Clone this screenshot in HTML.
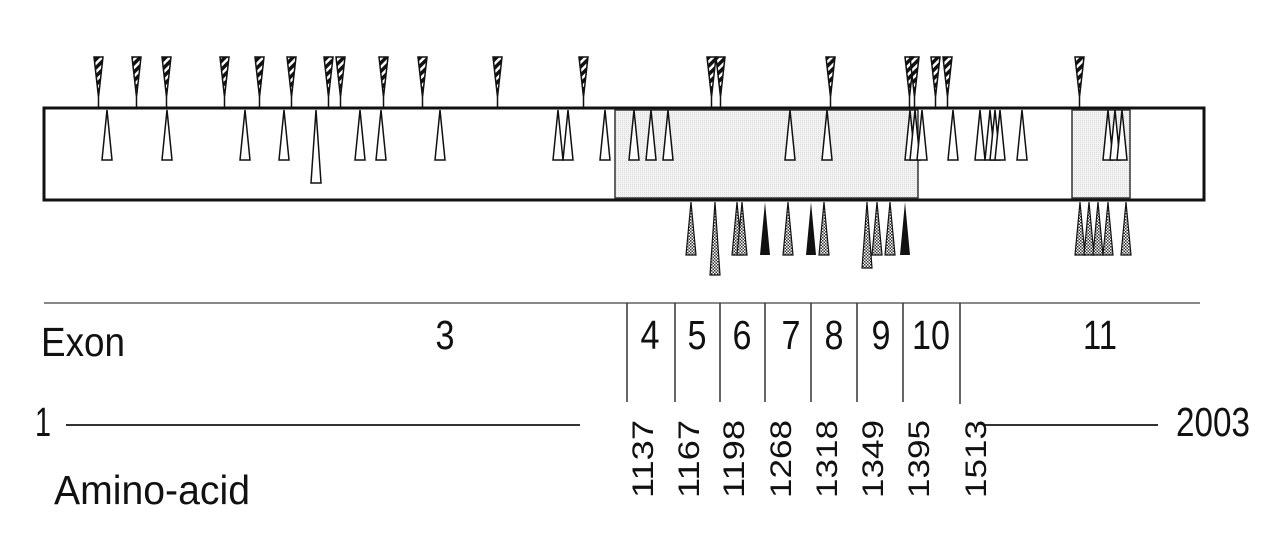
<!DOCTYPE html>
<html><head><style>body{margin:0;background:#fff}svg{display:block}</style></head><body>
<svg width="1280" height="546" xmlns="http://www.w3.org/2000/svg" font-family="Liberation Sans, sans-serif">
<defs>
<pattern id="h" width="6" height="6" patternUnits="userSpaceOnUse" patternTransform="rotate(45)"><rect width="6" height="6" fill="#fff"/><rect width="3.5" height="6" fill="#111"/></pattern>
<pattern id="d" width="3" height="3" patternUnits="userSpaceOnUse"><rect width="3" height="3" fill="#fff"/><rect width="1.5" height="1.5" fill="#333"/><rect x="1.5" y="1.5" width="1.5" height="1.5" fill="#333"/></pattern>
<pattern id="g" width="2" height="2" patternUnits="userSpaceOnUse"><rect width="2" height="2" fill="#f2f2f2"/><rect width="1" height="1" fill="#ddd"/></pattern>
</defs>
<rect x="44" y="108" width="1160" height="92" fill="#fff" stroke="#111" stroke-width="3"/>
<rect x="615" y="110" width="303" height="88" fill="url(#g)" stroke="#333" stroke-width="1.5"/>
<rect x="1072" y="110" width="58" height="88" fill="url(#g)" stroke="#333" stroke-width="1.5"/>
<g stroke="#111" stroke-width="1.5" fill="url(#h)">
<path d="M94 57h9l-4.5 40zM98.5 97v10"/>
<path d="M132 57h9l-4.5 40zM136.5 97v10"/>
<path d="M162 57h9l-4.5 40zM166.5 97v10"/>
<path d="M220 57h9l-4.5 40zM224.5 97v10"/>
<path d="M255 57h9l-4.5 40zM259.5 97v10"/>
<path d="M287 57h9l-4.5 40zM291.5 97v10"/>
<path d="M324 57h9l-4.5 40zM328.5 97v10"/>
<path d="M336 57h9l-4.5 40zM340.5 97v10"/>
<path d="M379 57h9l-4.5 40zM383.5 97v10"/>
<path d="M418 57h9l-4.5 40zM422.5 97v10"/>
<path d="M493 57h9l-4.5 40zM497.5 97v10"/>
<path d="M579 57h9l-4.5 40zM583.5 97v10"/>
<path d="M707 57h9l-4.5 40zM711.5 97v10"/>
<path d="M716 57h9l-4.5 40zM720.5 97v10"/>
<path d="M826 57h9l-4.5 40zM830.5 97v10"/>
<path d="M905 57h9l-4.5 40zM909.5 97v10"/>
<path d="M910 57h9l-4.5 40zM914.5 97v10"/>
<path d="M931 57h9l-4.5 40zM935.5 97v10"/>
<path d="M943 57h9l-4.5 40zM947.5 97v10"/>
<path d="M1075 57h9l-4.5 40zM1079.5 97v10"/>
</g>
<g stroke="#111" stroke-width="1.5" fill="#fff">
<path d="M107 110l5 50h-10z"/><path d="M167 110l5 50h-10z"/><path d="M245 110l5 50h-10z"/><path d="M284 110l5 50h-10z"/>
<path d="M316 110l5 73h-10z"/><path d="M360 110l5 50h-10z"/><path d="M381 110l5 50h-10z"/><path d="M440 110l5 50h-10z"/>
<path d="M558 110l5 50h-10z"/><path d="M568 110l5 50h-10z"/><path d="M605 110l5 50h-10z"/><path d="M634 110l5 50h-10z"/>
<path d="M651 110l5 50h-10z"/><path d="M668 110l5 50h-10z"/><path d="M790 110l5 50h-10z"/><path d="M827 110l5 50h-10z"/>
<path d="M910 110l5 50h-10z"/><path d="M915 110l5 50h-10z"/><path d="M922 110l5 50h-10z"/><path d="M953 110l5 50h-10z"/>
<path d="M980 110l5 50h-10z"/><path d="M990 110l5 50h-10z"/><path d="M995 110l5 50h-10z"/><path d="M1000 110l5 50h-10z"/>
<path d="M1022 110l5 50h-10z"/><path d="M1108 110l5 50h-10z"/><path d="M1115 110l5 50h-10z"/><path d="M1122 110l5 50h-10z"/>
</g>
<g stroke="#111" stroke-width="1.2" fill="url(#d)">
<path d="M691 202l5 53h-10z"/><path d="M737 202l5 53h-10z"/><path d="M742 202l5 53h-10z"/><path d="M788 202l5 53h-10z"/>
<path d="M824 202l5 53h-10z"/><path d="M877 202l5 53h-10z"/><path d="M890 202l5 53h-10z"/>
<path d="M1080 202l5 53h-10z"/><path d="M1089 202l5 53h-10z"/><path d="M1098 202l5 53h-10z"/><path d="M1108 202l5 53h-10z"/><path d="M1126 202l5 53h-10z"/>
<path d="M715 202l5 73h-10z"/><path d="M867 202l5 66h-10z"/>
</g>
<g fill="#111"><path d="M765 202l5 53h-10z"/><path d="M811 202l5 53h-10z"/><path d="M905 202l5 53h-10z"/></g>
<line x1="44" y1="303" x2="1200" y2="303" stroke="#888" stroke-width="2"/>
<g stroke="#333" stroke-width="1.5">
<line x1="627" y1="303" x2="627" y2="402"/><line x1="675" y1="303" x2="675" y2="402"/><line x1="720" y1="303" x2="720" y2="402"/><line x1="765" y1="303" x2="765" y2="402"/>
<line x1="811" y1="303" x2="811" y2="402"/><line x1="857" y1="303" x2="857" y2="402"/><line x1="903" y1="303" x2="903" y2="402"/><line x1="960" y1="303" x2="960" y2="404"/>
<line x1="66" y1="425" x2="580" y2="425" stroke-width="2"/><line x1="985" y1="425" x2="1158" y2="425" stroke-width="2"/>
</g>
<g font-size="41" fill="#111" text-anchor="middle">
<text x="83" y="356" textLength="84" lengthAdjust="spacingAndGlyphs">Exon</text>
<text x="445" y="349" textLength="19" lengthAdjust="spacingAndGlyphs">3</text>
<text x="650" y="349" textLength="19" lengthAdjust="spacingAndGlyphs">4</text><text x="697" y="349" textLength="19" lengthAdjust="spacingAndGlyphs">5</text><text x="742" y="349" textLength="19" lengthAdjust="spacingAndGlyphs">6</text><text x="791" y="349" textLength="19" lengthAdjust="spacingAndGlyphs">7</text>
<text x="834" y="349" textLength="19" lengthAdjust="spacingAndGlyphs">8</text><text x="881" y="349" textLength="19" lengthAdjust="spacingAndGlyphs">9</text><text x="931" y="349" textLength="38" lengthAdjust="spacingAndGlyphs">10</text>
<text x="1100" y="349" textLength="34" lengthAdjust="spacingAndGlyphs">11</text>
<text x="43" y="436" textLength="16" lengthAdjust="spacingAndGlyphs">1</text>
<text x="1213" y="436" textLength="74" lengthAdjust="spacingAndGlyphs">2003</text>
<text x="152" y="504" textLength="196" lengthAdjust="spacingAndGlyphs">Amino-acid</text>
</g>
<g font-size="30" fill="#111">
<text transform="translate(653,498) rotate(-90)" textLength="78" lengthAdjust="spacingAndGlyphs">1137</text>
<text transform="translate(699,498) rotate(-90)" textLength="78" lengthAdjust="spacingAndGlyphs">1167</text>
<text transform="translate(744,498) rotate(-90)" textLength="78" lengthAdjust="spacingAndGlyphs">1198</text>
<text transform="translate(791,498) rotate(-90)" textLength="78" lengthAdjust="spacingAndGlyphs">1268</text>
<text transform="translate(837,498) rotate(-90)" textLength="78" lengthAdjust="spacingAndGlyphs">1318</text>
<text transform="translate(883,498) rotate(-90)" textLength="78" lengthAdjust="spacingAndGlyphs">1349</text>
<text transform="translate(929,498) rotate(-90)" textLength="78" lengthAdjust="spacingAndGlyphs">1395</text>
<text transform="translate(986,498) rotate(-90)" textLength="78" lengthAdjust="spacingAndGlyphs">1513</text>
</g>
</svg>
</body></html>
